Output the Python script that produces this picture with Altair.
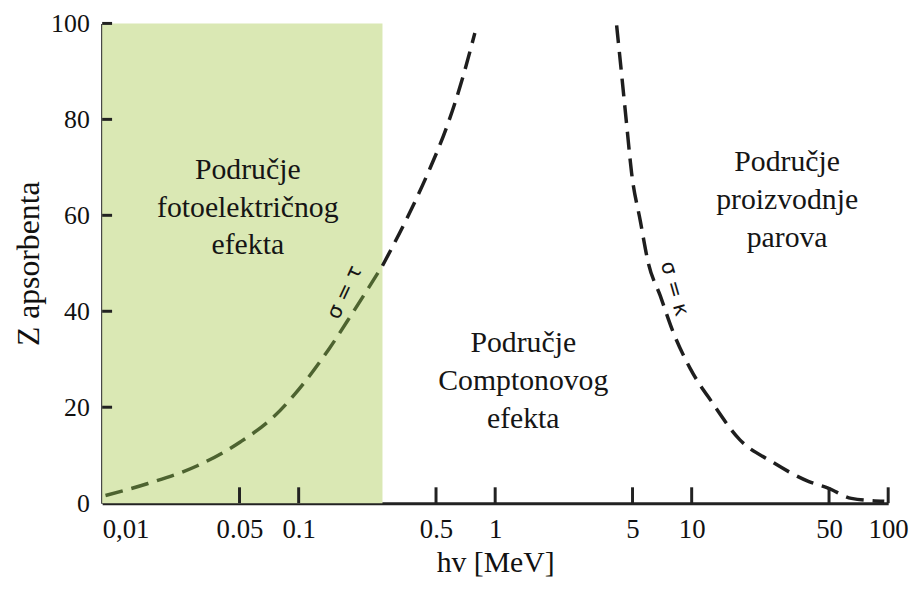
import altair as alt
import pandas as pd

# ---- data ----
# photoelectric / Compton boundary (sigma = tau)
pe_x = [0.0104, 0.0171, 0.0305, 0.0502, 0.0746, 0.1057, 0.143, 0.189, 0.267, 0.350, 0.457, 0.576, 0.678, 0.788]
pe_z = [1.6, 4.1, 7.8, 12.7, 18.0, 24.9, 32.2, 39.8, 49.5, 58.8, 69.0, 79.2, 88.2, 98.0]
# Compton / pair production boundary (sigma = kappa)
pp_x = [4.15, 4.40, 4.66, 4.94, 5.48, 6.02, 6.91, 8.04, 9.79, 12.8, 17.5, 25.7, 39.5, 49.8, 65.0, 95.5]
pp_z = [99.6, 89.4, 79.2, 69.0, 58.8, 50.0, 43.3, 35.7, 28.2, 20.8, 13.3, 8.6, 4.5, 3.1, 1.0, 0.4]

shade_x = [0.01, 0.267]       # shaded photoelectric region (hv range)
shade_z = [0, 100]

region_text = ["Područje\nfotoelektričnog\nefekta", "Područje\nComptonovog\nefekta", "Područje\nproizvodnje\nparova"]
region_x = [0.0551, 1.39, 30.6]
region_z = [69.4, 33.3, 71.0]

x_tick_values = [0.01, 0.05, 0.1, 0.5, 1, 5, 10, 50, 100]
x_inner_ticks = [0.05, 0.1, 0.5, 1, 5, 10, 50, 100]
y_tick_values = [0, 20, 40, 60, 80, 100]
y_inner_ticks = [20, 40, 60, 80, 100]

split_x = 0.267

# ---- tables ----
pe = pd.DataFrame({"x": pe_x, "z": pe_z})
pe_in = pe[pe.x <= split_x]
pe_out = pe[pe.x >= split_x]
pp = pd.DataFrame({"x": pp_x, "z": pp_z})
shade = pd.DataFrame({"x": [shade_x[0]], "x2": [shade_x[1]], "z": [shade_z[0]], "z2": [shade_z[1]]})
regions = pd.DataFrame({"x": region_x, "z": region_z, "t": region_text})
tau_lbl = pd.DataFrame({"x": [0.172], "z": [43.9], "t": ["σ = τ"]})
kap_lbl = pd.DataFrame({"x": [8.14], "z": [44.7], "t": ["σ = κ"]})
xt = pd.DataFrame({"x": x_inner_ticks})
yt = pd.DataFrame({"z": y_inner_ticks})

SERIF = "Times New Roman"
AX = "#222222"
W, H = 793, 484

xscale = alt.Scale(type="log", domain=[0.01, 100], nice=False)
yscale = alt.Scale(domain=[0, 100], nice=False)

xaxis = alt.Axis(
    title="hv [MeV]", values=x_tick_values, ticks=False, grid=False,
    labelExpr="datum.value < 0.02 ? '0,01' : toString(datum.value)",
    labelAlign={"condition": {"test": "datum.value < 0.02", "value": "left"}, "value": "center"},
    labelFont=SERIF, labelFontSize=27, labelColor="#111111", labelPadding=14,
    labelFlush=False, labelOverlap=False,
    titleFont=SERIF, titleFontSize=30, titleFontWeight="normal", titleColor="#111111", titlePadding=5,
    domainColor=AX, domainWidth=3,
)
yaxis = alt.Axis(
    title="Z apsorbenta", values=y_tick_values, ticks=False, grid=False,
    labelFont=SERIF, labelFontSize=26, labelColor="#111111", labelPadding=13,
    labelFlush=False, labelOverlap=False,
    titleFont=SERIF, titleFontSize=32, titleFontWeight="normal", titleColor="#111111", titlePadding=5,
    domainColor=AX, domainWidth=3,
)

X = alt.X("x:Q", scale=xscale, axis=xaxis)
Y = alt.Y("z:Q", scale=yscale, axis=yaxis)

rect = alt.Chart(shade).mark_rect(color="#dae8b4").encode(
    x=X, x2="x2:Q", y=Y, y2="z2:Q"
)

dash = [18, 9]
line_in = alt.Chart(pe_in).mark_line(color="#4d6330", strokeWidth=3.5, strokeDash=dash, interpolate="monotone").encode(x=X, y=Y)
line_out = alt.Chart(pe_out).mark_line(color="#1e1e1e", strokeWidth=3.5, strokeDash=dash, interpolate="monotone").encode(x=X, y=Y)
line_pp = alt.Chart(pp).mark_line(color="#1e1e1e", strokeWidth=3.5, strokeDash=dash, interpolate="monotone").encode(x=X, y=Y)

xticks = alt.Chart(xt).mark_rule(color=AX, strokeWidth=3).encode(
    x=X, y=alt.value(H), y2=alt.value(H - 16)
)
yticks = alt.Chart(yt).mark_rule(color=AX, strokeWidth=3).encode(
    y=Y, x=alt.value(0), x2=alt.value(10)
)

region_lbl = alt.Chart(regions).mark_text(
    font=SERIF, fontSize=30, color="#151515", align="center", baseline="middle",
    lineBreak="\n", lineHeight=38
).encode(x=X, y=Y, text="t:N")

tau = alt.Chart(tau_lbl).mark_text(
    font="DejaVu Sans", fontSize=21, color="#151515", angle=295, align="center", baseline="middle"
).encode(x=X, y=Y, text="t:N")
kap = alt.Chart(kap_lbl).mark_text(
    font="DejaVu Sans", fontSize=21, color="#151515", angle=74, align="center", baseline="middle"
).encode(x=X, y=Y, text="t:N")

chart = alt.layer(
    rect, line_in, line_out, line_pp, xticks, yticks, region_lbl, tau, kap
).properties(
    width=W, height=H,
    autosize=alt.AutoSizeParams(type="none"),
    padding={"left": 95, "top": 13, "right": 21, "bottom": 80},
    background="white",
).configure_view(stroke=None)

chart.save("out.html", embed_options={"renderer": "svg", "actions": False})
